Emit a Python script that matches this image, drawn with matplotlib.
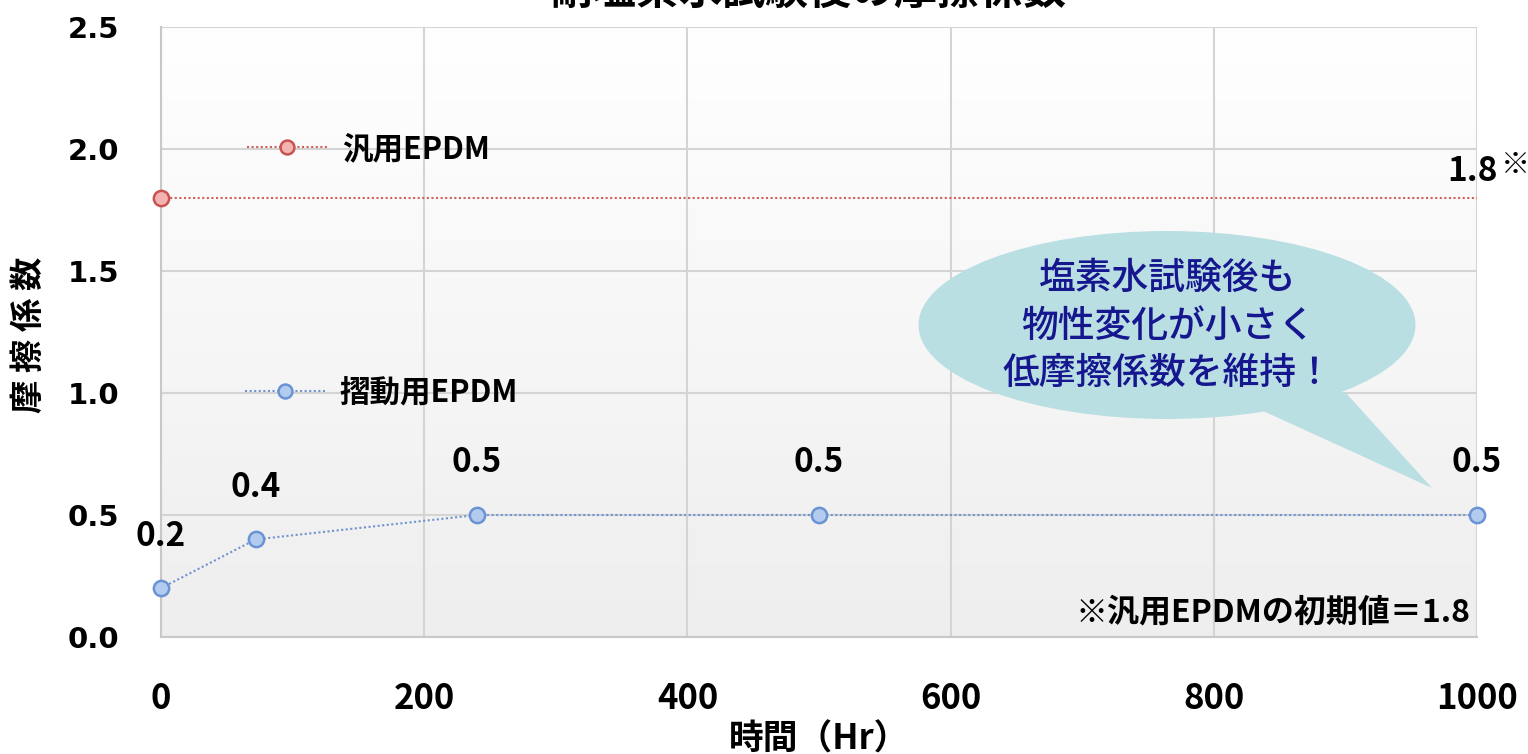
import numpy as np
import matplotlib
matplotlib.use("Agg")
import matplotlib.pyplot as plt
from matplotlib.patches import Ellipse, Polygon
from matplotlib.lines import Line2D
from matplotlib.colors import LinearSegmentedColormap

# ---- data ----
hours_slide = [0, 72, 240, 500, 1000]
mu_slide = [0.2, 0.4, 0.5, 0.5, 0.5]
hours_general = [0, 1000]
mu_general = [1.8, 1.8]
x_ticks = [0, 200, 400, 600, 800, 1000]
y_ticks = [0.0, 0.5, 1.0, 1.5, 2.0, 2.5]
title = "耐塩素水試験後の摩擦係数"
xlabel = "時間（Hr）"
ylabel = "摩 擦 係 数"
name_general = "汎用EPDM"
name_slide = "摺動用EPDM"
bubble_lines = ["塩素水試験後も", "物性変化が小さく", "低摩擦係数を維持！"]
footnote = "※汎用EPDMの初期値＝1.8"

CJK = ["Noto Sans CJK JP", "DejaVu Sans"]

W, H = 1528, 754
fig = plt.figure(figsize=(W / 100, H / 100), dpi=100)
L, R, T, B = 161, 1477, 27, 637
ax = fig.add_axes([L / W, 1 - B / H, (R - L) / W, (B - T) / H])

# background gradient
grad = np.linspace(0, 1, 256).reshape(-1, 1)
cmap = LinearSegmentedColormap.from_list("bg", ["#ffffff", "#eeeeee"])
ax.imshow(grad, aspect="auto", cmap=cmap, extent=[0, 1, 0, 1],
          transform=ax.transAxes, zorder=-2)

ax.set_xlim(0, 1000)
ax.set_ylim(0, 2.5)
ax.set_xticks(x_ticks)
ax.set_yticks(y_ticks)
ax.set_yticklabels([f"{v:.1f}" for v in y_ticks], fontsize=21,
                   fontweight="bold", family="DejaVu Sans")
ax.set_xticklabels([str(v) for v in x_ticks], fontsize=25,
                   fontweight="bold", family=CJK)
ax.tick_params(axis="both", length=0)
ax.tick_params(axis="y", pad=30)
ax.tick_params(axis="x", pad=32)
ax.set_axisbelow(True)
ax.grid(True, color="#d4d4d4", linewidth=1.5)
for s in ax.spines.values():
    s.set_color("#c8c8c8")
    s.set_linewidth(1.5)
ax.spines["top"].set_visible(False)
ax.spines["right"].set_visible(False)

# series
red_line, = ax.plot(hours_general, mu_general, linestyle=(0, (1, 1.2)),
                    color="#d0605c", linewidth=1.5, marker="o", markevery=[0],
                    markersize=11, markerfacecolor="#f3b3b2",
                    markeredgecolor="#c95350", markeredgewidth=1.8,
                    clip_on=False, zorder=5)
blue_line, = ax.plot(hours_slide, mu_slide, linestyle=(0, (1, 1.2)),
                     color="#6f94cf", linewidth=1.5, marker="o",
                     markersize=11, markerfacecolor="#b3cbef",
                     markeredgecolor="#6a93d3", markeredgewidth=1.8,
                     clip_on=False, zorder=5)

# data labels
for xv, yv in zip(hours_slide, mu_slide):
    ax.annotate(f"{yv:.1f}", (xv, yv), xytext=(0, 52),
                textcoords="offset pixels", ha="center", va="center",
                fontsize=24, fontweight="bold", family=CJK, zorder=6)
ax.annotate(f"{mu_general[-1]:.1f}", (hours_general[-1], mu_general[-1]),
            xytext=(-30, 26), textcoords="offset pixels", ha="left",
            va="center", fontsize=24, fontweight="bold", family=CJK,
            annotation_clip=False)
ax.annotate("※", (hours_general[-1], mu_general[-1]),
            xytext=(24, 33), textcoords="offset pixels", ha="left",
            va="center", fontsize=21, fontweight="bold", family=CJK,
            annotation_clip=False)

# inline legends
h_red = Line2D([], [], linestyle=(0, (1, 1.2)), color="#d0605c", linewidth=1.5,
               marker="o", markersize=10, markerfacecolor="#f3b3b2",
               markeredgecolor="#c95350", markeredgewidth=1.8)
h_blue = Line2D([], [], linestyle=(0, (1, 1.2)), color="#6f94cf", linewidth=1.5,
                marker="o", markersize=10, markerfacecolor="#b3cbef",
                markeredgecolor="#6a93d3", markeredgewidth=1.8)
leg_kw = dict(frameon=False, loc="center left", borderpad=0, borderaxespad=0,
              handlelength=2.65, handletextpad=0.45,
              prop={"family": CJK, "weight": "bold", "size": 22})
leg1 = ax.legend([h_red], [name_general],
                 bbox_to_anchor=((247 - L) / (R - L), 2.0 / 2.5), **leg_kw)
ax.add_artist(leg1)
leg2 = ax.legend([h_blue], [name_slide],
                 bbox_to_anchor=((245 - L) / (R - L), 1.0 / 2.5), **leg_kw)

# speech bubble (axes fraction coords from pixel layout)
def px(xp, yp):
    return ((xp - L) / (R - L), (B - yp) / (B - T))

bub_col = "#b9dfe3"
cx, cy = px(1167, 325)
ell = Ellipse((cx, cy), 497 / (R - L), 188 / (B - T), transform=ax.transAxes,
              facecolor=bub_col, edgecolor="none", zorder=7)
ax.add_patch(ell)
tail = Polygon([px(1250, 405), px(1432, 488), px(1345, 392)], closed=True,
               transform=ax.transAxes, facecolor=bub_col, edgecolor="none",
               zorder=7)
ax.add_patch(tail)
for i, line in enumerate(bubble_lines):
    tx, ty = px(1168, 278 + 47.5 * i)
    ax.text(tx, ty, line, transform=ax.transAxes, ha="center", va="center",
            fontsize=26.5, color="#16168f", family=CJK, fontweight="medium",
            zorder=8)

# footnote
fx, fy = px(1471, 612)
ax.text(fx, fy, footnote, transform=ax.transAxes, ha="right", va="center",
        fontsize=23, fontweight="bold", family=CJK, zorder=8)

# axis titles
ax.set_xlabel(xlabel, fontsize=25, fontweight="bold", family=CJK)
ax.set_ylabel(ylabel, fontsize=24, fontweight="bold", family=CJK)
ax.xaxis.set_label_coords(0.5, -(722 - B) / (B - T), transform=ax.transAxes)
ax.yaxis.set_label_coords(-(L - 46) / (R - L), (B - 335) / (B - T),
                          transform=ax.transAxes)

# title (partially cropped at the top as in the reference)
fig.text(808 / W, 1 + 9 / H, title, ha="center", va="center", fontsize=31,
         fontweight="bold", family=CJK)

fig.savefig("out.png", dpi=100)
